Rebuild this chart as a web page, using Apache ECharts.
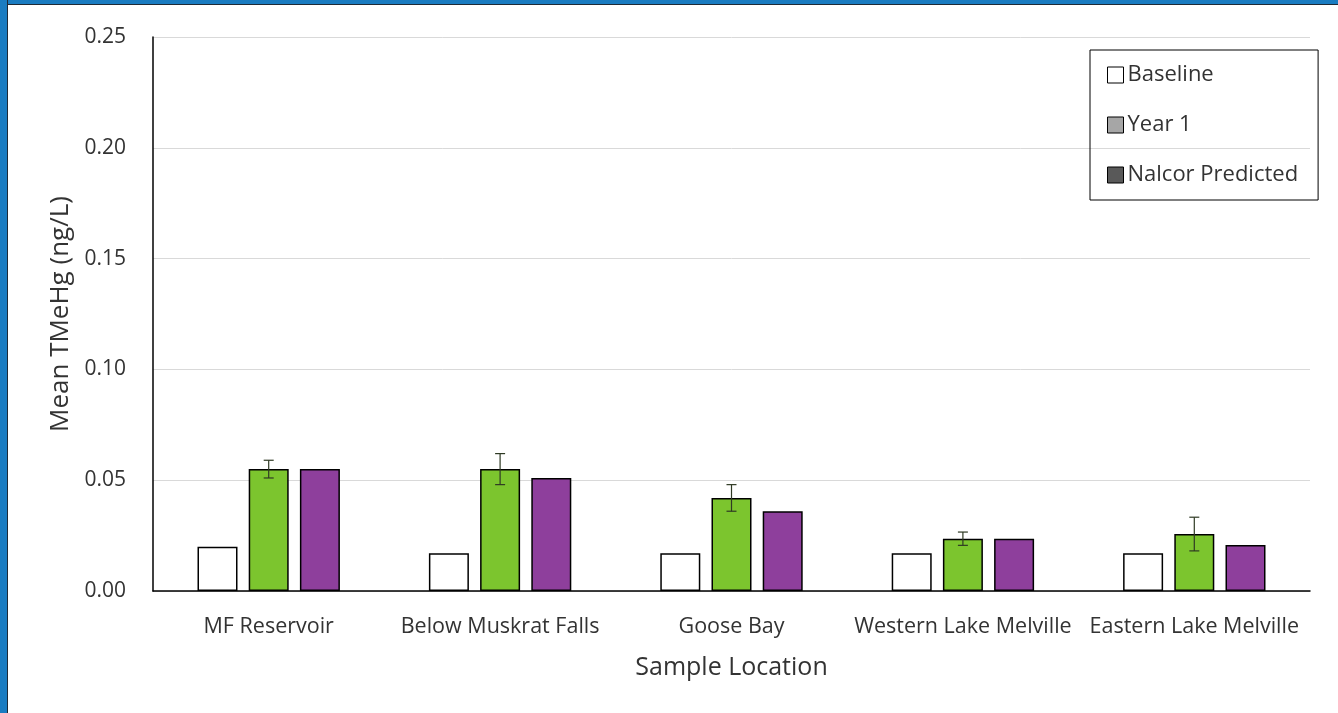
<!DOCTYPE html>
<html>
<head>
<meta charset="utf-8">
<script src="https://cdn.jsdelivr.net/npm/echarts@6/dist/echarts.min.js"></script>
<style>
html,body{margin:0;padding:0;background:#fff;}
#wrap{position:relative;width:1338px;height:713px;overflow:hidden;}
#chart{position:absolute;left:0;top:0;width:1338px;height:713px;}
.bl{position:absolute;left:0;top:0;width:7px;height:713px;background:#1a7cc1;border-right:1px solid #1f2a35;}
.bt{position:absolute;left:0;top:0;width:1338px;height:4px;background:#1a7cc1;border-bottom:1px solid #1f2a35;}
</style>
</head>
<body>
<div id="wrap">
<div id="chart"></div>
<div class="bt"></div>
<div class="bl"></div>
</div>
<script>
var categories = ['MF Reservoir', 'Below Muskrat Falls', 'Goose Bay', 'Western Lake Melville', 'Eastern Lake Melville'];
var baseline = [0.020, 0.017, 0.017, 0.017, 0.017];
var year1 = [0.055, 0.055, 0.042, 0.0236, 0.0257];
var year1Err = [0.004, 0.007, 0.006, 0.003, 0.0076];
var nalcor = [0.055, 0.051, 0.036, 0.0236, 0.0208];
var yTicks = [0, 0.05, 0.10, 0.15, 0.20, 0.25];

var errData = categories.map(function (c, i) {
  return [i, year1[i] - year1Err[i], year1[i] + year1Err[i]];
});

var FONT = 'Open Sans';
var chart = echarts.init(document.getElementById('chart'));
chart.setOption({
  animation: false,
  textStyle: { fontFamily: FONT },
  grid: { left: 153, right: 28, top: 37, bottom: 122 },
  legend: {
    orient: 'vertical',
    left: 1090,
    top: 50,
    padding: [13, 20, 13, 17],
    borderColor: '#000',
    borderWidth: 1,
    itemGap: 26,
    itemWidth: 16,
    itemHeight: 16,
    icon: 'rect',
    textStyle: { fontFamily: FONT, fontSize: 22, color: '#333', lineHeight: 24, padding: [0, 0, 0, -1] },
    data: [
      { name: 'Baseline', itemStyle: { color: '#ffffff', borderColor: '#000', borderWidth: 1 } },
      { name: 'Year 1', itemStyle: { color: '#a6a6a6', borderColor: '#000', borderWidth: 1 } },
      { name: 'Nalcor Predicted', itemStyle: { color: '#595959', borderColor: '#000', borderWidth: 1 } }
    ]
  },
  xAxis: {
    type: 'category',
    data: categories,
    name: 'Sample Location',
    nameLocation: 'middle',
    nameGap: 64,
    nameTextStyle: { fontFamily: FONT, fontSize: 25, color: '#333' },
    axisLine: { lineStyle: { color: '#000', width: 1.5 } },
    axisTick: { show: false },
    axisLabel: { fontFamily: FONT, fontSize: 21.5, color: '#333', margin: 25, interval: 0 }
  },
  yAxis: {
    type: 'value',
    min: 0,
    max: 0.25,
    interval: 0.05,
    name: 'Mean TMeHg (ng/L)',
    nameLocation: 'middle',
    nameGap: 78,
    nameTextStyle: { fontFamily: FONT, fontSize: 26, color: '#333' },
    axisLine: { show: true, lineStyle: { color: '#000', width: 1.5 } },
    axisTick: { show: false },
    splitLine: { lineStyle: { color: '#d9d9d9', width: 1 } },
    axisLabel: {
      fontFamily: FONT, fontSize: 21, color: '#333', margin: 27,
      formatter: function (v) { return v.toFixed(2); }
    }
  },
  series: [
    {
      name: 'Baseline', type: 'bar', data: baseline, barWidth: 40, barGap: '28%',
      itemStyle: { color: '#ffffff', borderColor: '#000', borderWidth: 1.5 }
    },
    {
      name: 'Year 1', type: 'bar', data: year1, barWidth: 40, barGap: '28%',
      itemStyle: { color: '#7cc52e', borderColor: '#000', borderWidth: 1.5 }
    },
    {
      name: 'Nalcor Predicted', type: 'bar', data: nalcor, barWidth: 40, barGap: '28%',
      itemStyle: { color: '#8e3f9c', borderColor: '#000', borderWidth: 1.5 }
    },
    {
      name: 'err', type: 'custom', data: errData, z: 10,
      encode: { x: 0, y: [1, 2] },
      renderItem: function (params, api) {
        var i = api.value(0);
        var lo = api.coord([i, api.value(1)]);
        var hi = api.coord([i, api.value(2)]);
        var w = 5;
        var st = { stroke: '#2f3a24', lineWidth: 1.2 };
        return {
          type: 'group',
          children: [
            { type: 'line', shape: { x1: hi[0], y1: hi[1], x2: lo[0], y2: lo[1] }, style: st },
            { type: 'line', shape: { x1: hi[0] - w, y1: hi[1], x2: hi[0] + w, y2: hi[1] }, style: st },
            { type: 'line', shape: { x1: lo[0] - w, y1: lo[1], x2: lo[0] + w, y2: lo[1] }, style: st }
          ]
        };
      }
    }
  ]
});
</script>
</body>
</html>
